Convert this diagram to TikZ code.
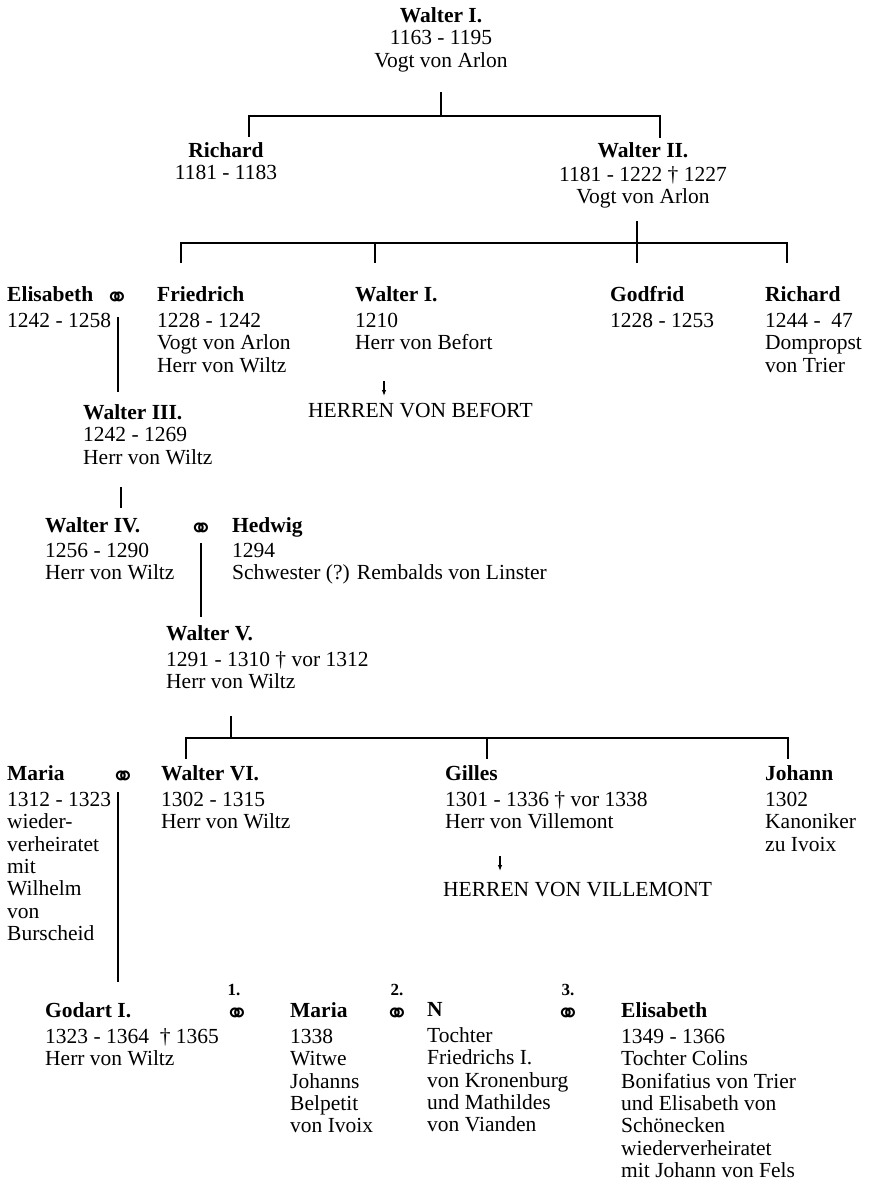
\documentclass[tikz,border=0pt]{standalone}
\usepackage{fontspec}
\setmainfont{Liberation Serif}
\newfontfamily\symfont{DejaVu Sans}
\usetikzlibrary{arrows.meta}
\newcommand\fs{\fontsize{21.5}{22.3}\selectfont}
\newcommand\msym{\symfont\bfseries\fontsize{29}{29}\selectfont}
\newcommand\nfs{\bfseries\fontsize{17}{17}\selectfont}
\tikzset{
  person/.style={anchor=north west, yshift=15.61pt, inner sep=0pt, align=left, font=\fs, execute at begin node=\strut},
  personc/.style={anchor=north, yshift=15.61pt, inner sep=0pt, align=center, font=\fs, execute at begin node=\strut},
  tree/.style={line width=2.3pt},
  marr/.style={anchor=base, yshift=-5pt, inner sep=0pt, font=\msym},
  num/.style={anchor=base, inner sep=0pt, font=\nfs},
  desc/.style={-{Latex[length=6pt,width=4.5pt]}, line width=1.1pt},
  herren/.style={anchor=base west, inner sep=0pt, font=\fs},
}
\begin{document}
\begin{tikzpicture}[x=1pt,y=-1pt]
\fill[white] (0,0) rectangle (870,1186);
\useasboundingbox (0,0) rectangle (870,1186);

% generation 1
\node[personc] (w1) at (441,23) {\textbf{Walter I.}\\1163 - 1195\\Vogt von Arlon};
% generation 2
\node[personc] (ri1) at (226,158) {\textbf{Richard}\\1181 - 1183};
\node[personc] (w2) at (643,158) {\textbf{Walter II.}\\[1.5pt]1181 - 1222 † 1227\\Vogt von Arlon};
% generation 3
\node[person] (eli1) at (7,302) {\textbf{Elisabeth}\\[3.7pt]1242 - 1258};
\node[marr] (m1) at (117,302) {⚭};
\node[person] (fr) at (157,302) {\textbf{Friedrich}\\[3.7pt]1228 - 1242\\Vogt von Arlon\\Herr von Wiltz};
\node[person] (wb) at (355,302) {\textbf{Walter I.}\\[3.7pt]1210\\Herr von Befort};
\node[herren] (hb) at (308,417) {HERREN VON BEFORT};
\node[person] (go) at (610,302) {\textbf{Godfrid}\\[3.7pt]1228 - 1253};
\node[person] (ri2) at (765,302) {\textbf{Richard}\\[3.7pt]1244 -\ \ 47\\Dompropst\\von Trier};
% generation 4
\node[person] (w3) at (83,420) {\textbf{Walter III.}\\1242 - 1269\\Herr von Wiltz};
% generation 5
\node[person] (w4) at (45,533) {\textbf{Walter IV.}\\[2.7pt]1256 - 1290\\Herr von Wiltz};
\node[marr] (m2) at (201,533) {⚭};
\node[person] (he) at (232,533) {\textbf{Hedwig}\\[2.7pt]1294\\Schwester (?) Rembalds von Linster};
% generation 6
\node[person] (w5) at (166,641) {\textbf{Walter V.}\\[3.7pt]1291 - 1310 † vor 1312\\Herr von Wiltz};
% generation 7
\node[person] (ma1) at (7,781) {\textbf{Maria}\\[3.7pt]1312 - 1323\\wieder-\\verheiratet\\mit\\Wilhelm\\von\\Burscheid};
\node[marr] (m3) at (123,781) {⚭};
\node[person] (w6) at (161,781) {\textbf{Walter VI.}\\[3.7pt]1302 - 1315\\Herr von Wiltz};
\node[person] (gi) at (445,781) {\textbf{Gilles}\\[3.7pt]1301 - 1336 † vor 1338\\Herr von Villemont};
\node[herren] (hv) at (443,896) {HERREN VON VILLEMONT};
\node[person] (jo) at (765,781) {\textbf{Johann}\\[3.7pt]1302\\Kanoniker\\zu Ivoix};
% generation 8
\node[person] (ga) at (45,1018) {\textbf{Godart I.}\\[3.7pt]1323 - 1364\ \ † 1365\\Herr von Wiltz};
\node[num] (n1) at (234,995) {1.};
\node[marr] (m4) at (237,1018) {⚭};
\node[person] (ma2) at (290,1018) {\textbf{Maria}\\[3.7pt]1338\\Witwe\\Johanns\\Belpetit\\von Ivoix};
\node[num] (n2) at (397,995) {2.};
\node[marr] (m5) at (397,1018) {⚭};
\node[person] (nn) at (427,1018) {\textbf{N}\\[3.7pt]Tochter\\Friedrichs I.\\von Kronenburg\\und Mathildes\\von Vianden};
\node[num] (n3) at (568,995) {3.};
\node[marr] (m6) at (568,1018) {⚭};
\node[person] (el2) at (621,1018) {\textbf{Elisabeth}\\[3.7pt]1349 - 1366\\Tochter Colins\\Bonifatius von Trier\\und Elisabeth von\\Schönecken\\wiederverheiratet\\mit Johann von Fels};

% connectors
\coordinate (b1l) at (249,116);
\coordinate (b1r) at (660,116);
\coordinate (t1) at (441,92);
\draw[tree] (t1) -- (t1 |- b1l);
\draw[tree] (b1l) ++(0,21) -- (b1l) -- (b1r) -- ++(0,22);

\coordinate (b2l) at (181,243);
\coordinate (b2r) at (787,243);
\coordinate (t2) at (637,221);
\draw[tree] (t2) -- ++(0,42);
\draw[tree] (b2l) ++(0,20) -- (b2l) -- (b2r) -- ++(0,20);
\coordinate (b2m) at (375,243);
\draw[tree] (b2m) -- ++(0,20);

\coordinate (l1a) at (118,317);
\coordinate (l1b) at (118,392);
\draw[tree] (l1a) -- (l1b);

\coordinate (l2a) at (121,487);
\coordinate (l2b) at (121,508);
\draw[tree] (l2a) -- (l2b);

\coordinate (l3a) at (201,543);
\coordinate (l3b) at (201,617);
\draw[tree] (l3a) -- (l3b);

\coordinate (b3l) at (186,738);
\coordinate (b3r) at (788,738);
\coordinate (t3) at (231,716);
\draw[tree] (t3) -- (t3 |- b3l);
\draw[tree] (b3l) ++(0,21) -- (b3l) -- (b3r) -- ++(0,21);
\coordinate (b3m) at (487,738);
\draw[tree] (b3m) -- ++(0,21);

\coordinate (l4a) at (118,792);
\coordinate (l4b) at (118,982);
\draw[tree] (l4a) -- (l4b);

\coordinate (a1) at (384,381);
\draw[desc] (a1) -- ++(0,15);
\coordinate (a2) at (500,856);
\draw[desc] (a2) -- ++(0,15);
\end{tikzpicture}
\end{document}
